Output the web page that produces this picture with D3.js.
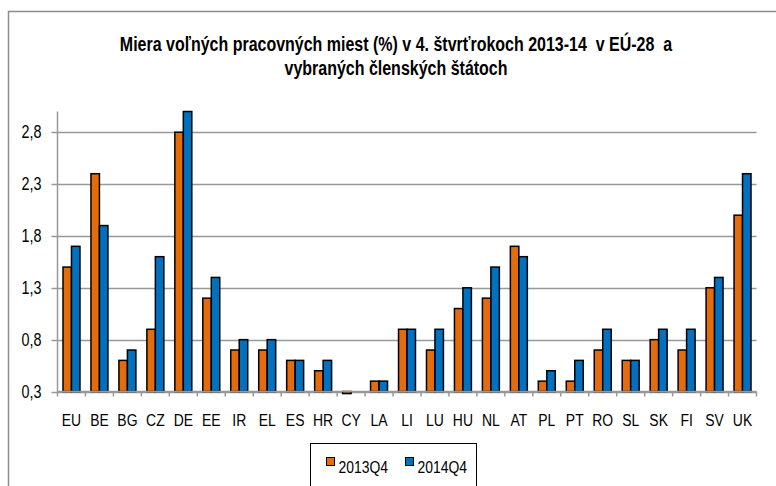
<!DOCTYPE html>
<html>
<head>
<meta charset="utf-8">
<script src="https://cdn.jsdelivr.net/npm/d3@7"></script>
<style>
  body { margin: 0; background: #fff; }
  text { font-family: "Liberation Sans", Arial, sans-serif; fill: #000; }
</style>
</head>
<body>
<div id="chart"></div>
<script>
var countries = ['EU','BE','BG','CZ','DE','EE','IR','EL','ES','HR','CY','LA','LI','LU','HU','NL','AT','PL','PT','RO','SL','SK','FI','SV','UK'];
var q2013 = [1.5,2.4,0.6,0.9,2.8,1.2,0.7,0.7,0.6,0.5,0.28,0.4,0.9,0.7,1.1,1.2,1.7,0.4,0.4,0.7,0.6,0.8,0.7,1.3,2.0];
var q2014 = [1.7,1.9,0.7,1.6,3.0,1.4,0.8,0.8,0.6,0.6,0.3,0.4,0.9,0.9,1.3,1.5,1.6,0.5,0.6,0.9,0.6,0.9,0.9,1.4,2.4];
var seriesNames = ['2013Q4','2014Q4'];
var yTicks = [0.3,0.8,1.3,1.8,2.3,2.8];
var titleLines = ['Miera voľných pracovných miest (%) v 4. štvrťrokoch 2013-14  v EÚ-28  a', 'vybraných členských štátoch'];

var w = 776, h = 486;
var colors = ['#e46c0a', '#0070c0'];
var plotL = 57.5, plotR = 756.5, plotT = 111.5, plotB = 391.5;
var narrow = 0.82; // fake Arial Narrow

function place(x, yy) { return 'translate(' + x + ',' + yy + ') scale(' + narrow + ',1)'; }

var svg = d3.select('#chart').append('svg').attr('width', w).attr('height', h);

// outer frame (only left and top visible)
svg.append('path').attr('d', 'M8.5,' + h + 'V11.5H' + w).attr('fill', 'none').attr('stroke', '#8c8c8c').attr('stroke-width', 1.5);

// title
svg.append('g').selectAll('text').data(titleLines).enter().append('text')
  .attr('transform', (d, i) => place(396, 51 + i * 24))
  .attr('text-anchor', 'middle').style('font-weight', 'bold').style('font-size', '19.5px').style('white-space', 'pre')
  .text(d => d);

var x0 = d3.scaleBand().domain(countries).range([plotL, plotR]);
var x1 = d3.scaleBand().domain(seriesNames).range([5.5, x0.bandwidth() - 5.5]);
var y = d3.scaleLinear().domain([0.3, 3.0]).range([plotB, plotT]);

// gridlines
svg.append('g').selectAll('line').data(yTicks).enter().append('line')
  .attr('x1', plotL - 6).attr('x2', plotR).attr('y1', d => Math.round(y(d)) + 0.5).attr('y2', d => Math.round(y(d)) + 0.5)
  .attr('stroke', '#999').attr('stroke-width', 1.5);

// y axis line
svg.append('line').attr('x1', plotL).attr('x2', plotL).attr('y1', plotT).attr('y2', plotB)
  .attr('stroke', '#999').attr('stroke-width', 1.5);

// y labels
svg.append('g').selectAll('text').data(yTicks).enter().append('text')
  .attr('transform', d => place(41.5, y(d) + 6))
  .attr('text-anchor', 'end').style('font-size', '17.5px')
  .text(d => d3.format('.1f')(d).replace('.', ','));

// x tick marks
var bounds = countries.map(c => x0(c)).concat([plotR]);
svg.append('g').selectAll('line').data(bounds).enter().append('line')
  .attr('x1', d => d).attr('x2', d => d).attr('y1', plotB).attr('y2', plotB + 5)
  .attr('stroke', '#999').attr('stroke-width', 1.5);

// bars (values under the axis minimum hang below the axis line)
var groups = svg.append('g').selectAll('g').data(countries).enter().append('g')
  .attr('transform', d => 'translate(' + x0(d) + ',0)');
groups.selectAll('rect').data((d, i) => [q2013[i], q2014[i]].map((v, j) => ({ s: seriesNames[j], v: v, j: j })))
  .enter().append('rect')
  .attr('x', d => x1(d.s)).attr('width', x1.bandwidth())
  .attr('y', d => Math.min(y(d.v), y(0.3)))
  .attr('height', d => Math.abs(y(0.3) - y(d.v)))
  .attr('fill', d => colors[d.j]).attr('stroke', '#000').attr('stroke-width', 1.5);

// x axis line
svg.append('line').attr('x1', plotL).attr('x2', plotR).attr('y1', plotB).attr('y2', plotB)
  .attr('stroke', '#999').attr('stroke-width', 1.5);

// x labels
svg.append('g').selectAll('text').data(countries).enter().append('text')
  .attr('transform', d => place(x0(d) + x0.bandwidth() / 2, 426))
  .attr('text-anchor', 'middle').style('font-size', '17px')
  .text(d => d);

// legend
var lg = svg.append('g');
lg.append('rect').attr('x', 310.5).attr('y', 443.5).attr('width', 166).attr('height', 45)
  .attr('fill', 'none').attr('stroke', '#000').attr('stroke-width', 1);
var items = lg.selectAll('g').data(seriesNames).enter().append('g')
  .attr('transform', (d, i) => 'translate(' + (326.5 + i * 79) + ',457.5)');
items.append('rect').attr('width', 8).attr('height', 8).attr('fill', (d, i) => colors[i])
  .attr('stroke', '#000').attr('stroke-width', 1);
items.append('text').attr('transform', place(12, 15)).style('font-size', '17px').text(d => d);
</script>
</body>
</html>
